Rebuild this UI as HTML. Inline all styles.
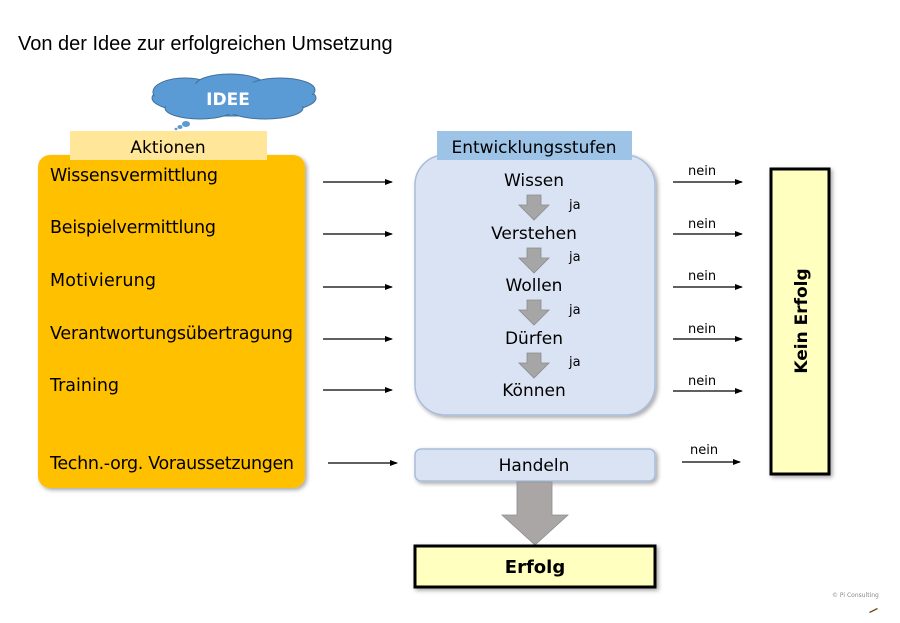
<!DOCTYPE html>
<html><head><meta charset="utf-8"><style>
html,body{margin:0;padding:0;background:#fff;}
svg{display:block;}
text{font-family:"DejaVu Sans","Liberation Sans",sans-serif;}
</style></head><body>
<svg width="900" height="623" viewBox="0 0 900 623" xmlns="http://www.w3.org/2000/svg">
<defs>
<marker id="ah" markerWidth="8" markerHeight="8" refX="7" refY="4" orient="auto" markerUnits="userSpaceOnUse">
<path d="M0,1 L8,4 L0,7 Z" fill="#000"/></marker>
<filter id="sh" x="-10%" y="-10%" width="130%" height="130%"><feDropShadow dx="2" dy="2" stdDeviation="2" flood-color="#000" flood-opacity="0.35"/></filter>
</defs>
<text x="18" y="50" font-size="20" fill="#000" style="font-family:'Liberation Sans',sans-serif">Von der Idee zur erfolgreichen Umsetzung</text>

<g fill="#5b9bd5" stroke="#41719c" stroke-width="1">
<ellipse cx="234" cy="98" rx="82" ry="18"/>
<ellipse cx="185" cy="92" rx="32" ry="14"/>
<ellipse cx="230" cy="86" rx="35" ry="12"/>
<ellipse cx="280" cy="90" rx="35" ry="12"/>
<ellipse cx="200" cy="108" rx="35" ry="11"/>
<ellipse cx="265" cy="108" rx="38" ry="11"/>
</g>
<ellipse cx="234" cy="98" rx="80" ry="16" fill="#5b9bd5"/>
<ellipse cx="186" cy="124" rx="4" ry="3" fill="#5b9bd5"/>
<ellipse cx="180" cy="127" rx="2.5" ry="2" fill="#5b9bd5"/>
<ellipse cx="176" cy="129" rx="1.5" ry="1.2" fill="#5b9bd5"/>
<text x="228" y="105" font-size="17" font-weight="bold" fill="#fff" text-anchor="middle">IDEE</text>

<rect x="38" y="155" width="267" height="333" rx="12" fill="#ffc000" filter="url(#sh)"/>
<rect x="70" y="131" width="197" height="29" fill="#ffe699"/>
<text x="168" y="153" font-size="17" text-anchor="middle">Aktionen</text>
<g font-size="17.5">
<text x="50" y="181" textLength="168">Wissensvermittlung</text>
<text x="50" y="233" textLength="166">Beispielvermittlung</text>
<text x="50" y="286" textLength="106">Motivierung</text>
<text x="50" y="339" textLength="243">Verantwortungsübertragung</text>
<text x="50" y="391" textLength="69">Training</text>
<text x="50" y="469" textLength="244">Techn.-org. Voraussetzungen</text>
</g>
<g stroke="#000" stroke-width="1.2" marker-end="url(#ah)">
<line x1="323" y1="182" x2="392" y2="182"/>
<line x1="323" y1="234" x2="392" y2="234"/>
<line x1="323" y1="287" x2="392" y2="287"/>
<line x1="323" y1="339" x2="392" y2="339"/>
<line x1="323" y1="390" x2="392" y2="390"/>
<line x1="328" y1="463" x2="397" y2="463"/>
</g>

<rect x="415" y="155" width="240" height="260" rx="30" fill="#dae3f3" stroke="#a9bcd8" stroke-width="1.5" filter="url(#sh)"/>
<rect x="437" y="131" width="195" height="29" fill="#9dc3e6"/>
<text x="534" y="153" font-size="17" text-anchor="middle" textLength="165">Entwicklungsstufen</text>
<g font-size="17" text-anchor="middle">
<text x="534" y="186">Wissen</text>
<text x="534" y="239">Verstehen</text>
<text x="534" y="291">Wollen</text>
<text x="534" y="344">Dürfen</text>
<text x="534" y="396">Können</text>
</g>
<g fill="#a6a6a6" stroke="#8c8c8c" stroke-width="0.8">
<path d="M527,195 h14 v10 h8 l-15,15 l-15,-15 h8 z"/>
<path d="M527,248 h14 v10 h8 l-15,15 l-15,-15 h8 z"/>
<path d="M527,300 h14 v10 h8 l-15,15 l-15,-15 h8 z"/>
<path d="M527,353 h14 v10 h8 l-15,15 l-15,-15 h8 z"/>
</g>
<g font-size="13">
<text x="569" y="209">ja</text>
<text x="569" y="261">ja</text>
<text x="569" y="314">ja</text>
<text x="569" y="366">ja</text>
</g>

<g font-size="13">
<text x="688" y="175">nein</text>
<text x="688" y="228">nein</text>
<text x="688" y="280">nein</text>
<text x="688" y="333">nein</text>
<text x="688" y="385">nein</text>
<text x="690" y="454">nein</text>
</g>
<g stroke="#000" stroke-width="1.2" marker-end="url(#ah)">
<line x1="673" y1="182" x2="742" y2="182"/>
<line x1="673" y1="234" x2="742" y2="234"/>
<line x1="673" y1="287" x2="742" y2="287"/>
<line x1="673" y1="339" x2="742" y2="339"/>
<line x1="673" y1="391" x2="742" y2="391"/>
<line x1="682" y1="462" x2="740" y2="462"/>
</g>

<rect x="771" y="169" width="58" height="305" fill="#ffffc0" stroke="#000" stroke-width="3" filter="url(#sh)"/>
<text transform="translate(807,321) rotate(-90)" font-size="17" font-weight="bold" text-anchor="middle">Kein Erfolg</text>

<rect x="415" y="449" width="240" height="32" rx="6" fill="#dae3f3" stroke="#a9bcd8" stroke-width="1.5" filter="url(#sh)"/>
<text x="534" y="471" font-size="17" text-anchor="middle">Handeln</text>
<path d="M517,482 h35 v33 h16 l-33,30 l-33,-30 h15 z" fill="#aaa6a6" stroke="#8c8c8c" stroke-width="0.8"/>

<rect x="415" y="546" width="240" height="41" fill="#ffffc0" stroke="#000" stroke-width="3" filter="url(#sh)"/>
<text x="535" y="573" font-size="18" font-weight="bold" text-anchor="middle">Erfolg</text>

<text x="832" y="597" font-size="6" fill="#888">© Pi Consulting</text>
<path d="M869,612 l8,-4 l1,1 l-8,4 z" fill="#6b4a1a"/>
</svg>
</body></html>
